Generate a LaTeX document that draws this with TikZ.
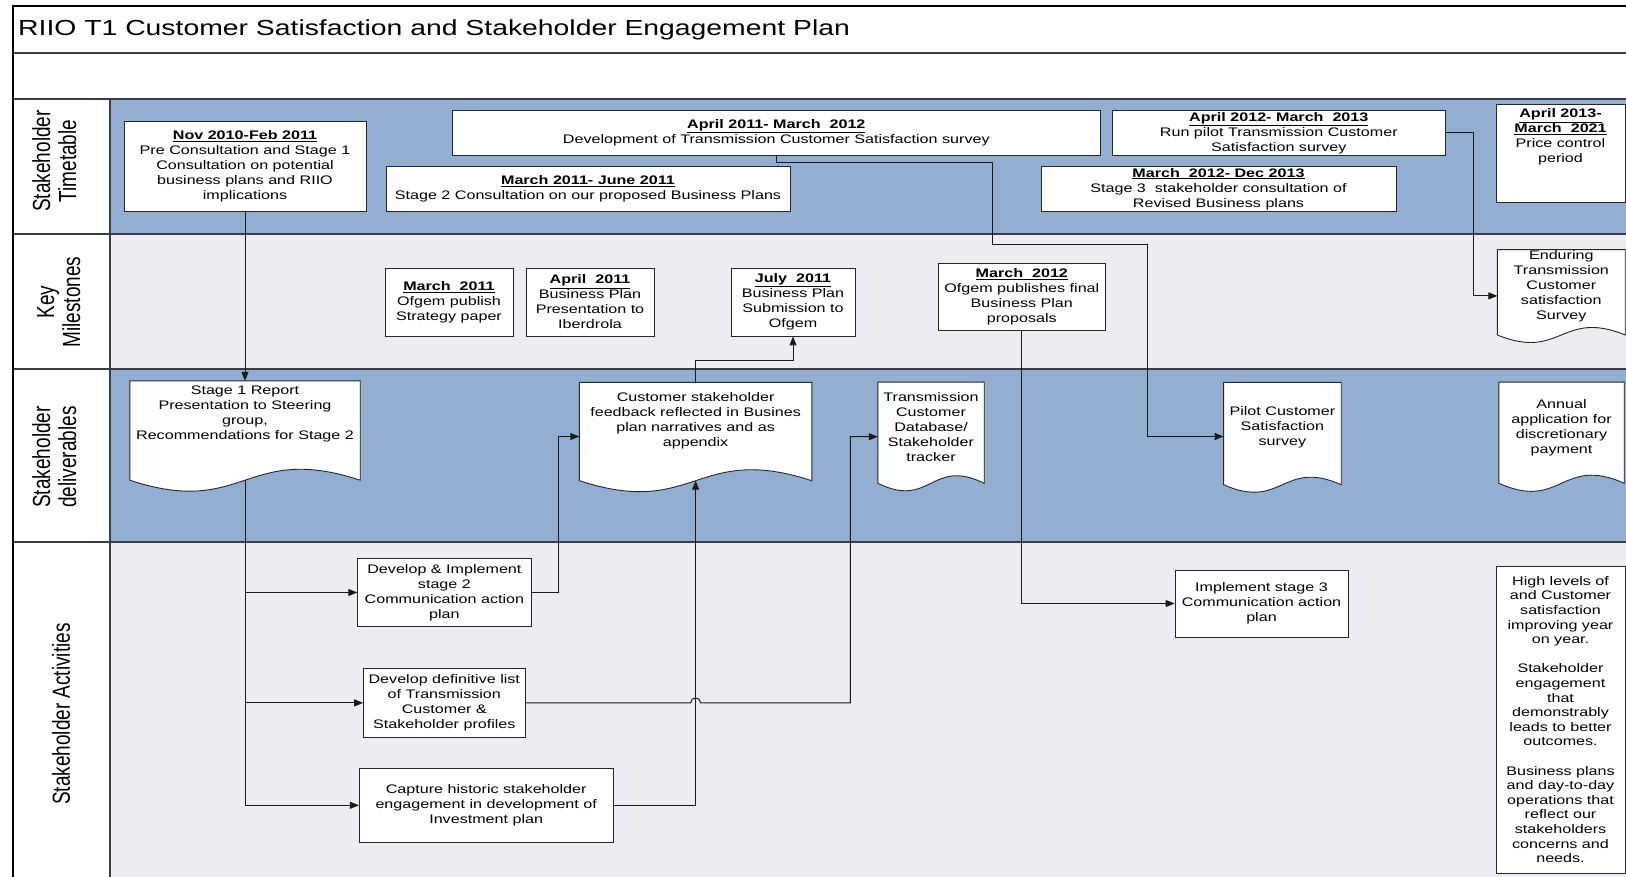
\documentclass[tikz,border=0pt]{standalone}
\usepackage{fontspec}
\setmainfont{Liberation Sans}[FakeStretch=1.3]
\newfontfamily\lanefont{Liberation Sans}
\usetikzlibrary{positioning,calc,arrows.meta}
\definecolor{laneblue}{RGB}{147,174,209}
\definecolor{lanegrey}{RGB}{238,236,243}
\definecolor{rulegrey}{RGB}{60,60,72}
\pgfdeclarelayer{lanes}
\pgfdeclarelayer{docs}
\pgfsetlayers{lanes,docs,main}

\begin{document}
\begin{tikzpicture}[x=1pt,y=-1pt,every node/.style={font=\fontsize{12.4}{15}\selectfont, align=center, inner sep=1pt},stagebox/.style={draw=black!85, fill=white, line width=0.9pt},docbox/.style={inner sep=1pt},docline/.style={draw=black!85, fill=white, line width=0.9pt},lanelabel/.style={rotate=90, font=\lanefont\fontsize{19}{20}\selectfont},link/.style={draw=black!90, line width=1pt},arr/.style={link, -{Triangle[length=9pt,width=7pt]}}]
\useasboundingbox (0,0) rectangle (1626,876);
% swim lanes
\begin{pgfonlayer}{lanes}
\fill[laneblue] (110,99) rectangle (1626,234);
\fill[lanegrey] (110,234) rectangle (1626,369);
\fill[laneblue] (110,369) rectangle (1626,542);
\fill[lanegrey] (110,542) rectangle (1626,880);
\foreach \y in {99,234,369,542} \draw[rulegrey, line width=1.3pt] (13,\y) -- (1630,\y);
\draw[rulegrey, line width=1.3pt] (110,99) -- (110,880);
\draw[black!75, line width=1.2pt] (13,53) -- (1630,53);
\draw[black, line width=2pt] (13,880) -- (13,6) -- (1630,6);
\end{pgfonlayer}
\node[anchor=west, font=\fontsize{21.8}{26}\selectfont] (title) at (17,30) {RIIO T1 Customer Satisfaction and Stakeholder Engagement Plan};
\node[lanelabel] (labtime) at (58,161) {\scalebox{1}[1.3]{\begin{tabular}{@{}c@{}}Stakeholder\\Timetable\end{tabular}}};
\node[lanelabel] (labmile) at (62,302) {\scalebox{1}[1.3]{\begin{tabular}{@{}c@{}}Key\\Milestones\end{tabular}}};
\node[lanelabel] (labdeliv) at (58,457) {\scalebox{1}[1.3]{\begin{tabular}{@{}c@{}}Stakeholder\\deliverables\end{tabular}}};
\node[lanelabel] (labact) at (61,714) {\scalebox{1}[1.3]{Stakeholder Activities}};
% timetable
\node[stagebox, minimum width=242, minimum height=90.7] (nov) at (245,166.3) {\underline{\textbf{Nov 2010-Feb 2011}}\\Pre Consultation and Stage 1\\Consultation on potential\\business plans and RIIO\\implications};
\node[stagebox, minimum width=647.5, minimum height=45] (dev) at (776.3,133) {\underline{\textbf{April 2011- March\ \ 2012}}\\Development of Transmission Customer Satisfaction survey};
\node[stagebox, minimum width=404, minimum height=45] (stg2) at (588,189) {\underline{\textbf{March 2011- June 2011}}\\Stage 2 Consultation on our proposed Business Plans};
\node[stagebox, minimum width=333.5, minimum height=45.5] (pilotrun) at (1278.8,132.8) {\underline{\textbf{April 2012- March\ \ 2013}}\\Run pilot Transmission Customer\\Satisfaction survey};
\node[stagebox, minimum width=355, minimum height=45.7] (stg3) at (1218.5,188.8) {\underline{\textbf{March\ \ 2012- Dec 2013}}\\Stage 3\ \ stakeholder consultation of\\Revised Business plans};
\node[stagebox, minimum width=129, minimum height=97.8, text depth=35pt] (price) at (1560.5,153.4) {\underline{\textbf{April 2013-}}\\\underline{\textbf{March\ \ 2021}}\\Price control\\period};
% milestones
\node[stagebox, minimum width=128, minimum height=68] (m1) at (449,302) {\underline{\textbf{March\ \ 2011}}\\Ofgem publish\\Strategy paper};
\node[stagebox, minimum width=128, minimum height=68] (m2) at (590,302) {\underline{\textbf{April\ \ 2011}}\\Business Plan\\Presentation to\\Iberdrola};
\node[stagebox, minimum width=124, minimum height=68] (m3) at (793,302) {\underline{\textbf{July\ \ 2011}}\\Business Plan\\Submission to\\Ofgem};
\node[stagebox, minimum width=166.5, minimum height=67.7] (m4) at (1021.8,297) {\underline{\textbf{March\ \ 2012}}\\Ofgem publishes final\\Business Plan\\proposals};
\node[docbox, minimum width=127.5, minimum height=83, text depth=14pt] (enduring) at (1561.3,292.3) {Enduring\\Transmission\\Customer\\satisfaction\\Survey};
% deliverables
\node[docbox, minimum width=230, minimum height=99, text depth=36pt] (s1rep) at (245,430.5) {Stage 1 Report\\Presentation to Steering\\group,\\Recommendations for Stage 2};
\node[docbox, minimum width=232, minimum height=98, text depth=23pt] (feedback) at (695.6,431.5) {Customer stakeholder\\feedback reflected in Busines\\plan narratives and as\\appendix};
\node[docbox, minimum width=106, minimum height=100.7, text depth=11pt] (tcdb) at (931,432.7) {Transmission\\Customer\\Database/\\Stakeholder\\tracker};
\node[docbox, minimum width=117.3, minimum height=102, text depth=14pt] (pilot) at (1282.4,433.5) {Pilot Customer\\Satisfaction\\survey};
\node[docbox, minimum width=125, minimum height=100.7, text depth=13pt] (annual) at (1561.5,432.7) {Annual\\application for\\discretionary\\payment};
\begin{pgfonlayer}{docs}
\foreach \d/\c in {s1rep/38,feedback/38,tcdb/26,pilot/26,annual/28,enduring/26}
  \draw[docline] (\d.north west) -- (\d.north east) -- (\d.south east) .. controls ($(\d.south)+(0,-\c)$) and ($(\d.south)+(0,\c)$) .. (\d.south west) -- cycle;
\end{pgfonlayer}
% activities
\node[stagebox, minimum width=173.3, minimum height=68] (act2) at (444.4,592.5) {Develop \& Implement\\stage 2\\Communication action\\plan};
\node[stagebox, minimum width=161.5, minimum height=68.3] (actlist) at (444.3,702.9) {Develop definitive list\\of Transmission\\Customer \&\\Stakeholder profiles};
\node[stagebox, minimum width=253.7, minimum height=74.7] (acthist) at (486.2,805.3) {Capture historic stakeholder\\engagement in development of\\Investment plan};
\node[stagebox, minimum width=173, minimum height=67] (act3) at (1261.5,603.5) {Implement stage 3\\Communication action\\plan};
\node[stagebox, minimum width=129, minimum height=307, font=\fontsize{12.4}{14.6}\selectfont] (outcomes) at (1560.5,719.5) {High levels of\\and Customer\\satisfaction\\improving year\\on year.\\[14.6pt]Stakeholder\\engagement\\that\\demonstrably\\leads to better\\outcomes.\\[14.6pt]Business plans\\and day-to-day\\operations that\\reflect our\\stakeholders\\concerns and\\needs.};
% connectors
\draw[arr] (nov.south) -- (s1rep.north);
\draw[link] (s1rep.south) -- (s1rep.south |- acthist.west);
\foreach \t in {act2,actlist,acthist}
  \draw[arr] (s1rep.south |- \t.west) -- (\t.west);
\draw[arr] (act2.east) -- ++(26.5,0) |- ([yshift=-5pt]feedback.west);
\draw[arr] (acthist.east) -| (feedback.south);
\draw[arr] (feedback.north) -- ++(0,-22) -| (m3.south);
\draw[arr] (actlist.east) -- ($(feedback.south |- actlist.east)+(-5,0)$) arc[start angle=180, end angle=360, radius=5] -- ($(actlist.east -| tcdb.west)+(-27.5,0)$) |- ([yshift=-4pt]tcdb.west);
\draw[arr] (dev.south) |- (992,162.3) |- (1147,244) |- ([yshift=-3pt]pilot.west);
\draw[arr] (pilotrun.east) -- ++(27.5,0) |- ([yshift=-3.6pt]enduring.west);
\draw[arr] (m4.south) |- (act3.west);
\end{tikzpicture}
\end{document}
